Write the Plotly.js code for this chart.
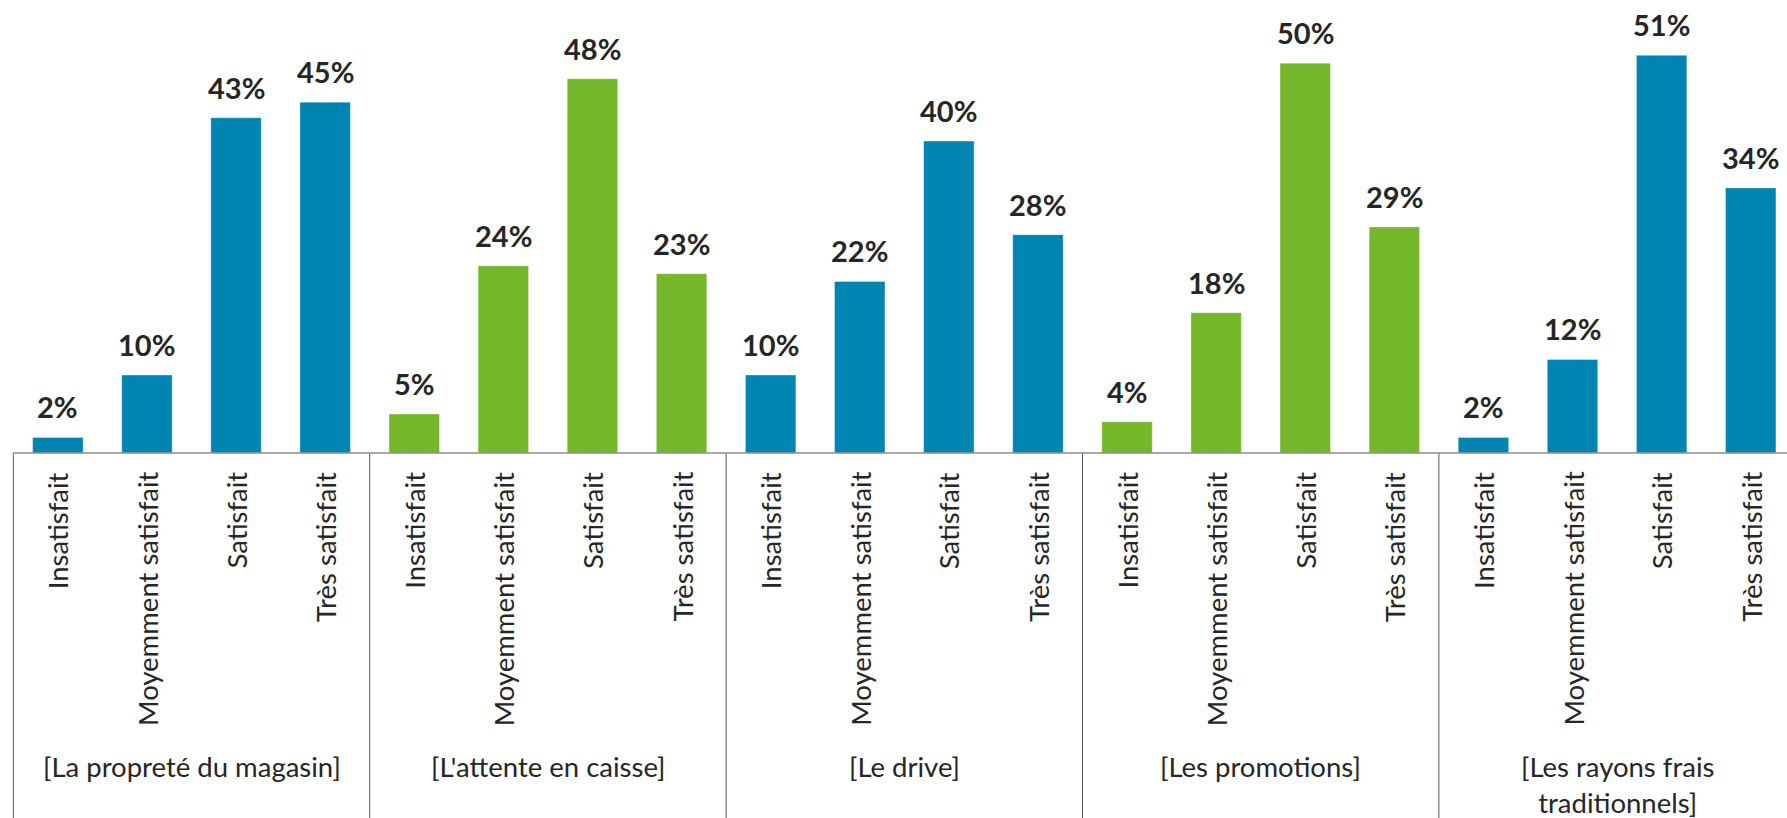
<!DOCTYPE html>
<html>
<head>
<meta charset="utf-8">
<script src="https://cdn.plot.ly/plotly-3.0.1.min.js"></script>
<style>
  html, body { margin: 0; padding: 0; background: #ffffff; }
  #chart { width: 1787px; height: 818px; }
</style>
</head>
<body>
<div id="chart"></div>
<script>
// ---- Data ----
const groups = ["[La propreté du magasin]", "[L'attente en caisse]", "[Le drive]", "[Les promotions]", "[Les rayons frais<br>traditionnels]"];
const categories = ["Insatisfait", "Moyemment satisfait", "Satisfait", "Très satisfait"];
const propreteValues = [2, 10, 43, 45];
const attenteValues = [5, 24, 48, 23];
const driveValues = [10, 22, 40, 28];
const promotionsValues = [4, 18, 50, 29];
const rayonsValues = [2, 12, 51, 34];
const groupValues = [propreteValues, attenteValues, driveValues, promotionsValues, rayonsValues];

// ---- Styles ----
const BLUE = "#0085b2";
const GREEN = "#75b72b";
const groupColors = [BLUE, GREEN, BLUE, GREEN, BLUE];
const TEXT = "#262626";
const FONT = "Lato, 'Open Sans', sans-serif";

const nCat = categories.length;
const traces = [];
const annotations = [];
const shapes = [];

groupValues.forEach((vals, g) => {
  const xs = vals.map((v, i) => g * nCat + i);
  traces.push({
    type: "bar",
    x: xs,
    y: vals,
    width: 0.566,
    marker: { color: groupColors[g], line: { color: "rgba(255,255,255,0.35)", width: 1 } },
    hoverinfo: "skip",
    showlegend: false
  });
  vals.forEach((v, i) => {
    // value label
    annotations.push({
      x: xs[i], y: v, xref: "x", yref: "y",
      text: "<b>" + v + "%</b>",
      showarrow: false, xanchor: "center", yanchor: "bottom", yshift: 11,
      font: { family: FONT, size: 29, color: TEXT }
    });
    // category label (rotated)
    annotations.push({
      x: xs[i], y: 0, xref: "x", yref: "y",
      text: categories[i], textangle: -90,
      showarrow: false, xanchor: "center", yanchor: "top", yshift: -17,
      font: { family: FONT, size: 27.5, color: TEXT }
    });
  });
  // group label
  annotations.push({
    x: g * nCat + (nCat - 1) / 2, y: 0, xref: "x", yref: "y",
    text: groups[g],
    showarrow: false, xanchor: "center", yanchor: "top", yshift: -296, borderpad: 0,
    font: { family: FONT, size: 27.5, color: TEXT }
  });
  // separator line (left of each group)
  shapes.push({
    type: "line", xref: "x", yref: "paper",
    x0: g * nCat - 0.5, x1: g * nCat - 0.5, y0: 0, y1: -0.81,
    line: { color: "#595959", width: 1 }
  });
});

// baseline
shapes.push({
  type: "line", xref: "x", yref: "paper",
  x0: -0.5, x1: groups.length * nCat - 0.5, y0: 0, y1: 0,
  line: { color: "#8c8c8c", width: 1.5 }
});

const layout = {
  width: 1787, height: 818,
  margin: { l: 8, r: 0, t: 0, b: 364.7 },
  paper_bgcolor: "#ffffff", plot_bgcolor: "#ffffff",
  bargap: 0.434,
  xaxis: {
    type: "linear", range: [-0.5595, 19.407],
    showticklabels: false, showgrid: false, zeroline: false, showline: false, ticks: "",
    fixedrange: true
  },
  yaxis: {
    range: [0, 58.1], visible: false, showgrid: false, zeroline: false, fixedrange: true
  },
  annotations: annotations,
  shapes: shapes,
  font: { family: FONT, color: TEXT }
};

Plotly.newPlot("chart", traces, layout, { displayModeBar: false, staticPlot: true });
</script>
</body>
</html>
